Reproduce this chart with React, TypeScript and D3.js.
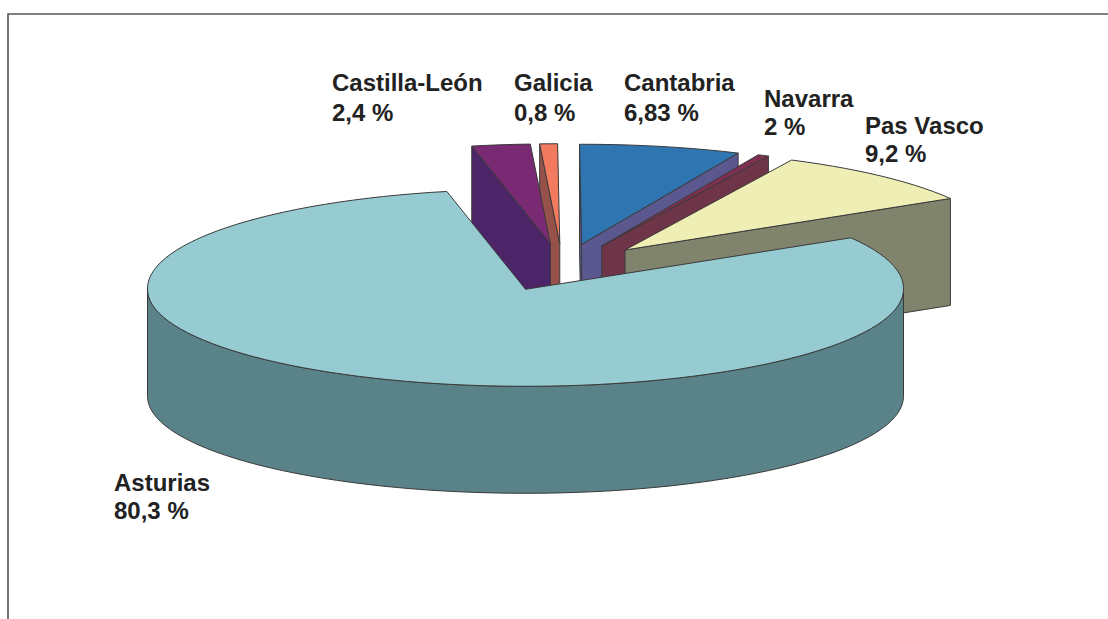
import React from "react";
import * as d3 from "d3";

const W = 1108;
const H = 619;

const regions = ["Asturias", "Castilla-León", "Galicia", "Cantabria", "Navarra", "Pas Vasco"];
// Drawn shares (Navarra is drawn much thinner than its label says)
const shares = [80.3, 2.47, 0.75, 6.83, 0.47, 9.18];
const shareLabels = ["80,3 %", "2,4 %", "0,8 %", "6,83 %", "2 %", "9,2 %"];

const topColors = ["#95CBD1", "#7A2A73", "#F27A5E", "#2E75B2", "#7F3050", "#EFEFB5"];
const sideColors = ["#5A8389", "#4C2569", "#96524A", "#5A588F", "#6E3548", "#80846C"];
const labelLayout = [
  { x: 114, y: 491, gap: 28 },
  { x: 332, y: 91, gap: 30 },
  { x: 514, y: 91, gap: 30 },
  { x: 624, y: 91, gap: 30 },
  { x: 764, y: 107, gap: 28 },
  { x: 865, y: 134, gap: 28 },
];

const centerX = 562.5;
const centerY = 267.5;
const radiusX = 378;
const radiusFront = 97;
const radiusBack = 100;
const backWiden = 0.008;
const depth = 107;
const explode = 0.245;
const startDeg = 59;

const rad = (d: number) => (d * Math.PI) / 180;
const TAU = Math.PI * 2;

const sx = d3.scaleLinear().domain([-1, 1]).range([centerX - radiusX, centerX + radiusX]);
const sy = d3.scaleLinear().domain([-1, 1]).range([centerY - radiusFront, centerY + radiusFront]);

const pieGen = d3
  .pie<number>()
  .sort(null)
  .startAngle(rad(startDeg))
  .endAngle(rad(startDeg) + TAU);
const arcs = pieGen(shares);

const line = d3.line<[number, number]>().curve(d3.curveLinear);

type Pt = [number, number];

function apexOf(a: d3.PieArcDatum<number>): Pt {
  const m = (a.startAngle + a.endAngle) / 2;
  return [sx(explode * Math.sin(m)), sy(-explode * Math.cos(m))];
}
function rim(apex: Pt, t: number): Pt {
  const c = Math.cos(t);
  return [
    apex[0] + radiusX * Math.sin(t) * (1 + backWiden * Math.max(c, 0)),
    apex[1] - (c > 0 ? radiusBack : radiusFront) * c,
  ];
}
function rimRange(apex: Pt, t0: number, t1: number): Pt[] {
  const n = Math.max(2, Math.ceil((t1 - t0) / rad(2.5)));
  return d3.range(n + 1).map((i) => rim(apex, t0 + ((t1 - t0) * i) / n));
}
const down = (p: Pt): Pt => [p[0], p[1] + depth];
const norm = (t: number) => ((t % TAU) + TAU) % TAU;

function topPath(a: d3.PieArcDatum<number>) {
  const apex = apexOf(a);
  return line([apex, ...rimRange(apex, a.startAngle, a.endAngle)]) + "Z";
}
function radialWall(a: d3.PieArcDatum<number>, t: number) {
  const apex = apexOf(a);
  const r = rim(apex, t);
  return line([apex, r, down(r), down(apex)]) + "Z";
}
function frontWall(a: d3.PieArcDatum<number>) {
  const apex = apexOf(a);
  const paths: string[] = [];
  for (const k of [0, 1]) {
    const lo = Math.max(a.startAngle, Math.PI / 2 + k * TAU);
    const hi = Math.min(a.endAngle, (3 * Math.PI) / 2 + k * TAU);
    if (hi > lo) {
      const pts = rimRange(apex, lo, hi);
      paths.push(line([...pts, ...pts.slice().reverse().map(down)]) + "Z");
    }
  }
  return paths;
}

const edge = { stroke: "#3a3a3a", strokeWidth: 1, strokeLinejoin: "round" as const };

function Slice({ a, i }: { a: d3.PieArcDatum<number>; i: number }) {
  const s = norm(a.startAngle);
  const e = norm(a.endAngle);
  return (
    <g>
      {s > Math.PI && <path d={radialWall(a, a.startAngle)} fill={sideColors[i]} {...edge} />}
      {e < Math.PI && <path d={radialWall(a, a.endAngle)} fill={sideColors[i]} {...edge} />}
      {frontWall(a).map((d, k) => (
        <path key={k} d={d} fill={sideColors[i]} {...edge} />
      ))}
      <path d={topPath(a)} fill={topColors[i]} {...edge} />
    </g>
  );
}

export default function App() {
  const order = [2, 1, 3, 4, 5, 0];
  return (
    <svg
      width={W}
      height={H}
      viewBox={`0 0 ${W} ${H}`}
      style={{ position: "fixed", left: 0, top: 0, background: "#fff" }}
    >
      <path d={`M8 ${H}V14H${W}`} fill="none" stroke="#555" strokeWidth={1.6} />
      {order.map((i) => (
        <Slice key={i} a={arcs[i]} i={i} />
      ))}
      <g fontFamily="'Liberation Sans', Arial, sans-serif" fontWeight="bold" fontSize={24} fill="#222">
        {regions.map((r, i) => (
          <text key={r} x={labelLayout[i].x} y={labelLayout[i].y}>
            <tspan x={labelLayout[i].x}>{r}</tspan>
            <tspan x={labelLayout[i].x} dy={labelLayout[i].gap}>
              {shareLabels[i]}
            </tspan>
          </text>
        ))}
      </g>
    </svg>
  );
}
